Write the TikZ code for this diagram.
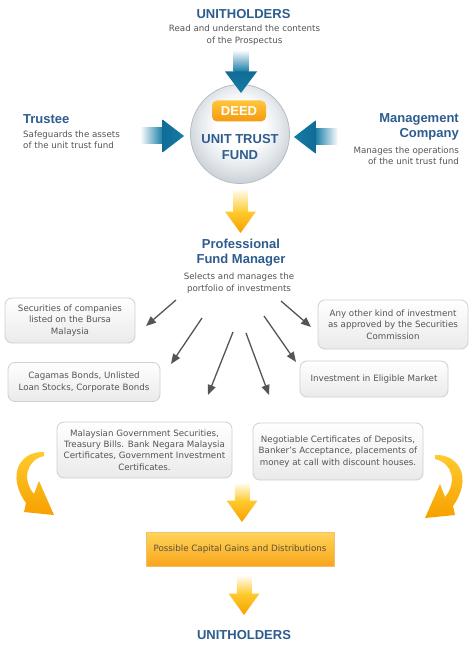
\documentclass[tikz,border=0pt]{standalone}
\usepackage{fontspec}
\setmainfont{DejaVu Sans}
\newfontfamily\headfont{Liberation Sans}
\usetikzlibrary{arrows.meta}
\definecolor{headblue}{HTML}{2D5C8E}
\definecolor{arrblue}{HTML}{157BA6}
\definecolor{arrdark}{HTML}{116C96}
\definecolor{txtgray}{HTML}{555555}
\definecolor{boxline}{HTML}{CFCFCF}
\definecolor{boxbot}{HTML}{EAEAEA}
\definecolor{ymid}{HTML}{FFCB2E}
\definecolor{yorange}{HTML}{F7A000}
\definecolor{obtop}{HTML}{FFD55A}
\definecolor{obbot}{HTML}{F9A51C}
\definecolor{obline}{HTML}{F0C070}
\definecolor{circmid}{HTML}{E6EAEE}
\definecolor{circout}{HTML}{CDD3D9}
\definecolor{circline}{HTML}{B5BDC6}
\definecolor{deedtop}{HTML}{FFC53A}
\definecolor{deedbot}{HTML}{F59A10}
\definecolor{grayarrow}{HTML}{555555}
\definecolor{capt}{HTML}{5B5040}
\pgfdeclareradialshading{circsh}{\pgfpoint{0bp}{6bp}}{color(0bp)=(white); color(12bp)=(white); color(20bp)=(circmid); color(27bp)=(circout); color(50bp)=(circout)}
\begin{document}
\begin{tikzpicture}[x=1pt,y=-1pt,
  head/.style={font=\headfont\bfseries\fontsize{13}{15}\selectfont, text=headblue, inner sep=0pt, align=center},
  desc/.style={font=\fontsize{8.7}{11.3}\selectfont, text=txtgray, inner sep=0pt, align=center},
  invbox/.style={desc, draw=boxline, rounded corners=7pt, top color=white, bottom color=boxbot, line width=0.8pt},
  garrow/.style={draw=grayarrow, line width=1.3pt, -{Triangle[length=10pt,width=8pt]}},
  bluedown/.pic={
    \shade[top color=white, bottom color=arrblue] (-7.5,-43) rectangle (7.5,-21);
    \shade[top color=arrdark, bottom color=arrblue] (-16,-21.5) -- (16,-21.5) -- (0,0) -- cycle;
  },
  blueright/.pic={
    \shade[left color=white, right color=arrblue] (-44,-8) rectangle (-21,8);
    \shade[left color=arrdark, right color=arrblue] (-21.5,-16.5) -- (-21.5,16.5) -- (0,0) -- cycle;
  },
  blueleft/.pic={
    \shade[right color=white, left color=arrblue] (21,-8) rectangle (44,8);
    \shade[right color=arrdark, left color=arrblue] (21.5,-16.5) -- (21.5,16.5) -- (0,0) -- cycle;
  },
  ydown/.pic={
    \shade[top color=white, bottom color=ymid] (-7.25,-#1) rectangle (7.25,-21);
    \shade[top color=ymid, bottom color=yorange] (-15.5,-21.5) -- (15.5,-21.5) -- (0,0) -- cycle;
  }
]
\useasboundingbox[fill=white] (0,0) rectangle (474,663);

% top
\node[head] (uh1) at (243.5,14) {UNITHOLDERS};
\node[desc] (uh1d) at (244.5,35) {Read and understand the contents\\of the Prospectus};

% circle
\node[circle, minimum size=99pt, inner sep=0pt, draw=circline, line width=0.8pt, shading=circsh] (fund) at (240,134) {};
\node[rounded corners=5pt, minimum width=54pt, minimum height=21pt, inner sep=0pt, top color=deedtop, bottom color=deedbot,
  font=\headfont\bfseries\fontsize{13}{15}\selectfont, text=white] (deed) at (239,111) {DEED};
\node[head] (utf) at (240,147) {UNIT TRUST\\[1pt]FUND};

% arrows into circle
\coordinate (topTip) at (241,93);
\coordinate (leftTip) at (184,136);
\coordinate (rightTip) at (294,137);
\pic at (topTip) {bluedown};
\pic at (leftTip) {blueright};
\pic at (rightTip) {blueleft};

% trustee
\node[head, anchor=west] (trustee) at (23,119) {Trustee};
\node[desc, align=left, anchor=west] (trusteed) at (23,139.5) {Safeguards the assets\\of the unit trust fund};

% management
\node[head, align=right, anchor=east] (mgmt) at (459,126.5) {Management\\Company};
\node[desc, align=right, anchor=east] (mgmtd) at (459,156) {Manages the operations\\of the unit trust fund};

% fund manager
\coordinate (y1Tip) at (240.5,233);
\pic at (y1Tip) {ydown=45};
\node[head] (pfm) at (241,253) {Professional\\Fund Manager};
\node[desc] (pfmd) at (239,283) {Selects and manages the\\portfolio of investments};

% investment boxes
\node[invbox, minimum width=130pt, minimum height=45pt] (bA) at (70,320.5) {Securities of companies\\listed on the Bursa\\Malaysia};
\node[invbox, minimum width=152pt, minimum height=39pt] (bB) at (84,382) {Cagamas Bonds, Unlisted\\Loan Stocks, Corporate Bonds};
\node[invbox, minimum width=150pt, minimum height=49pt] (bC) at (393,324.5) {Any other kind of investment\\as approved by the Securities\\Commission};
\node[invbox, minimum width=148pt, minimum height=36pt] (bD) at (374,379) {Investment in Eligible Market};
\node[invbox, minimum width=175pt, minimum height=56pt] (bE) at (144.5,450) {Malaysian Government Securities,\\Treasury Bills. Bank Negara Malaysia\\Certificates, Government Investment\\Certificates.};
\node[invbox, minimum width=170pt, minimum height=57pt] (bF) at (338,451.5) {Negotiable Certificates of Deposits,\\Banker's Acceptance, placements of\\money at call with discount houses.};

% gray arrows
\coordinate (g1s) at (176,300); \coordinate (g1e) at (146,326);
\coordinate (g2s) at (202,318); \coordinate (g2e) at (171,364);
\coordinate (g3s) at (233,332); \coordinate (g3e) at (208,395);
\coordinate (g4s) at (246,333); \coordinate (g4e) at (269,395);
\coordinate (g5s) at (264,316); \coordinate (g5e) at (296,362);
\coordinate (g6s) at (281,301); \coordinate (g6e) at (311,327);
\draw[garrow] (g1s) -- (g1e);
\draw[garrow] (g2s) -- (g2e);
\draw[garrow] (g3s) -- (g3e);
\draw[garrow] (g4s) -- (g4e);
\draw[garrow] (g5s) -- (g5e);
\draw[garrow] (g6s) -- (g6e);

% curved side arrows
\shade[top color=ymid, bottom color=yorange]
  (44,452) .. controls (20,451) and (6,475) .. (26,503) -- (24,512) -- (54,515) -- (39,481) -- (34,494)
  .. controls (22,480) and (26,460) .. (44,456) -- cycle;
\shade[top color=ymid, bottom color=yorange]
  (435,455) .. controls (459,454) and (473,478) .. (453,506) -- (455,515) -- (425,518) -- (440,484) -- (445,497)
  .. controls (457,483) and (453,463) .. (435,459) -- cycle;

% gains
\coordinate (y2Tip) at (242,522);
\pic at (y2Tip) {ydown=40};
\node[draw=obline, line width=0.6pt, top color=obtop, bottom color=obbot, minimum width=188pt, minimum height=34pt, inner sep=0pt,
  font=\fontsize{8.7}{10}\selectfont, text=capt] (gains) at (240,549) {Possible Capital Gains and Distributions};
\coordinate (y3Tip) at (244,615);
\pic at (y3Tip) {ydown=40};
\node[head] (uh2) at (244,635) {UNITHOLDERS};
\end{tikzpicture}
\end{document}
